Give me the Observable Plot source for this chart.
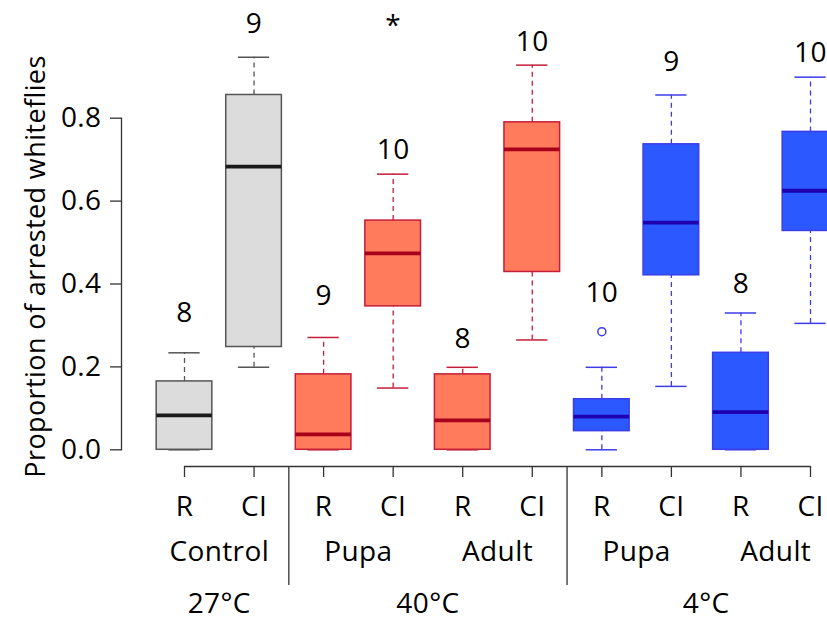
<!DOCTYPE html>
<html><head><meta charset="utf-8">
<script src="https://cdn.jsdelivr.net/npm/d3@7"></script>
<script src="https://cdn.jsdelivr.net/npm/@observablehq/plot@0.6"></script>
<style>body{margin:0;background:#fff}</style>
</head><body><div id="chart"></div>
<script>
// ---- data ----
const treatment   = ["R","CI","R","CI","R","CI","R","CI","R","CI"];
const stage       = ["Control","Control","Pupa","Pupa","Adult","Adult","Pupa","Pupa","Adult","Adult"];
const temperature = ["27°C","27°C","40°C","40°C","40°C","40°C","4°C","4°C","4°C","4°C"];
const whiskerLow  = [0.000, 0.199, 0.000, 0.149, 0.000, 0.265, 0.000, 0.153, 0.000, 0.305];
const q1          = [0.000, 0.248, 0.000, 0.346, 0.000, 0.429, 0.045, 0.421, 0.000, 0.528];
const median      = [0.083, 0.683, 0.037, 0.474, 0.071, 0.725, 0.080, 0.548, 0.091, 0.625];
const q3          = [0.165, 0.856, 0.182, 0.553, 0.182, 0.790, 0.122, 0.737, 0.234, 0.767];
const whiskerHigh = [0.234, 0.947, 0.271, 0.665, 0.199, 0.928, 0.199, 0.856, 0.330, 0.899];
const sampleSize  = [8, 9, 9, 10, 8, 10, 10, 9, 8, 10];
const sampleSizeAt= [0.331, 1.026, 0.370, 0.724, 0.268, 0.983, 0.379, 0.935, 0.400, 0.957];
const outlierBox  = [7];
const outlierValue= [0.285];
const starBox     = [4];
const starAt      = [1.022];
const yTicks      = [0, 0.2, 0.4, 0.6, 0.8];
const yLabel      = "Proportion of arrested whiteflies";

// ---- styles ----
const palette = {
  "27°C": {fill: "#dcdcdc", stroke: "#555555", med: "#1a1a1a"},
  "40°C": {fill: "#ff7b5c", stroke: "#c41e3a", med: "#a8001c"},
  "4°C":  {fill: "#2b58ff", stroke: "#3d3de8", med: "#1e00b0"}
};
const halfBox = 0.4, halfCap = 0.225;
const font = "'Open Sans', 'Noto Sans', sans-serif";
const fs = 28, ls = "0.4px";

const boxes = treatment.map((t, i) => ({
  pos: i + 1, treatment: t, stage: stage[i], temperature: temperature[i],
  lo: whiskerLow[i], q1: q1[i], med: median[i], q3: q3[i], hi: whiskerHigh[i],
  n: sampleSize[i], nAt: sampleSizeAt[i]
}));
const outliers = outlierBox.map((b, i) => ({pos: b, value: outlierValue[i], temperature: temperature[b - 1]}));
const stars = starBox.map((b, i) => ({pos: b, at: starAt[i]}));

// groups for lower labels
const stageGroups = d3.groups(boxes, d => d.temperature + "|" + d.stage)
  .map(([k, v]) => ({label: v[0].stage, temperature: v[0].temperature, pos: d3.mean(v, d => d.pos)}));
const tempGroups = d3.groups(boxes, d => d.temperature)
  .map(([k, v]) => ({label: k, pos: d3.mean(v, d => d.pos), lo: d3.min(v, d => d.pos), hi: d3.max(v, d => d.pos)}));
const boundaries = tempGroups.slice(1).map((g, i) => (tempGroups[i].hi + g.lo) / 2);

const fillOf = d => palette[d.temperature].fill;
const strokeOf = d => palette[d.temperature].stroke;
const medOf = d => palette[d.temperature].med;
const first = boxes[0].pos, last = boxes[boxes.length - 1].pos;
const axisDy = 16.7, axisColor = "#333";

const chart = Plot.plot({
  width: 827,
  height: 622,
  marginLeft: 121,
  marginRight: 17,
  marginTop: 117.7,
  marginBottom: 172.7,
  style: {fontFamily: font, fontSize: fs + "px", color: "#000", background: "#fff", letterSpacing: ls},
  x: {domain: [first, last], range: [184, 810], axis: null},
  y: {domain: [0, 0.8], axis: null},
  marks: [
    // y axis
    Plot.frame({anchor: "left", stroke: axisColor, strokeWidth: 1.3}),
    Plot.axisY({ticks: yTicks, tickFormat: d3.format(".1f"), tickSize: 11, tickPadding: 9,
      fontSize: fs, stroke: axisColor, strokeWidth: 1.3, label: null}),
    Plot.text([yLabel], {frameAnchor: "left", textAnchor: "middle", lineAnchor: "middle",
      dx: -85, dy: -17.5, rotate: -90, fontSize: 27, letterSpacing: 0}),
    // whiskers
    Plot.ruleX(boxes, {x: "pos", y1: "q3", y2: "hi", stroke: strokeOf, strokeWidth: 1.3, strokeDasharray: "5,4"}),
    Plot.ruleX(boxes, {x: "pos", y1: "lo", y2: "q1", stroke: strokeOf, strokeWidth: 1.3, strokeDasharray: "5,4"}),
    Plot.ruleY(boxes, {y: "hi", x1: d => d.pos - halfCap, x2: d => d.pos + halfCap, stroke: strokeOf, strokeWidth: 1.5}),
    Plot.ruleY(boxes, {y: "lo", x1: d => d.pos - halfCap, x2: d => d.pos + halfCap, stroke: strokeOf, strokeWidth: 1.5}),
    // boxes
    Plot.rect(boxes, {x1: d => d.pos - halfBox, x2: d => d.pos + halfBox, y1: "q1", y2: "q3",
      fill: fillOf, stroke: strokeOf, strokeWidth: 1.5}),
    Plot.ruleY(boxes, {y: "med", x1: d => d.pos - halfBox, x2: d => d.pos + halfBox, stroke: medOf, strokeWidth: 3.8}),
    // outliers
    Plot.dot(outliers, {x: "pos", y: "value", r: 4, stroke: d => palette[d.temperature].stroke, strokeWidth: 1.5, fill: "none"}),
    // sample sizes and significance
    Plot.text(boxes, {x: "pos", y: "nAt", text: d => String(d.n), fontSize: fs, fill: "#000"}),
    Plot.text(stars, {x: "pos", y: "at", text: () => "*", fontSize: fs, fill: "#000"}),
    // x axis
    Plot.ruleY([0], {x1: first, x2: last, dy: axisDy, stroke: axisColor, strokeWidth: 1.3}),
    Plot.ruleX(boxes, {x: "pos", y1: () => 0, y2: () => 0, dy: axisDy, insetBottom: -11, stroke: axisColor, strokeWidth: 1.3}),
    Plot.ruleX(boundaries, {x: d => d, y1: () => 0, y2: () => 0, dy: axisDy, insetBottom: -119, stroke: axisColor, strokeWidth: 1.3}),
    Plot.text(boxes, {x: "pos", frameAnchor: "bottom", lineAnchor: "middle", dy: 57, text: "treatment", fontSize: fs}),
    Plot.text(stageGroups, {x: "pos", frameAnchor: "bottom", lineAnchor: "middle", dy: 102.5, text: "label", fontSize: fs}),
    Plot.text(tempGroups, {x: "pos", frameAnchor: "bottom", lineAnchor: "middle", dy: 154.5, text: "label", fontSize: fs})
  ]
});
document.getElementById("chart").appendChild(chart);
</script>
</body></html>
